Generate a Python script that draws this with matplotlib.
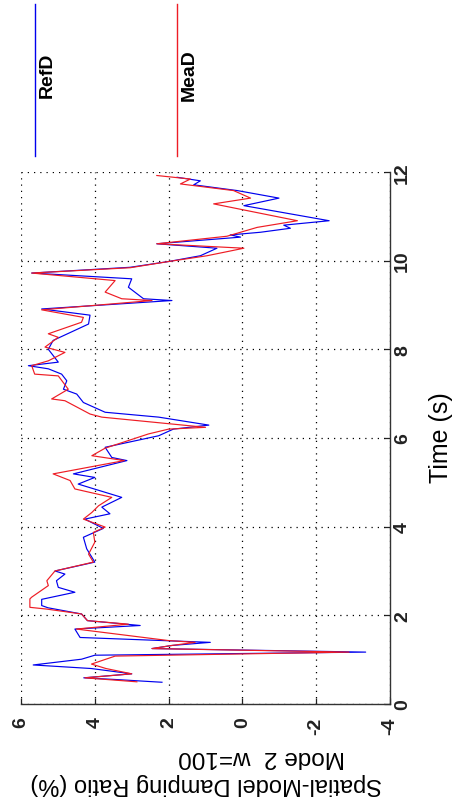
import matplotlib
matplotlib.use("Agg")
import matplotlib.pyplot as plt
from matplotlib.lines import Line2D

plt.rcParams['font.family'] = ['Liberation Sans', 'DejaVu Sans']
plt.rcParams['axes.unicode_minus'] = False

# RefD (blue) : time (s) / damping ratio (%)
ref_t = [0.49, 0.55, 0.59, 0.68, 0.80, 0.88, 1.01, 1.10, 1.17, 1.25,
         1.32, 1.39, 1.50, 1.69, 1.77, 1.88, 2.03, 2.17, 2.22, 2.36,
         2.52, 2.63, 2.78, 2.93, 3.00, 3.20, 3.50, 3.76, 3.96, 4.17,
         4.29, 4.44, 4.66, 4.96, 5.11, 5.19, 5.49, 5.56, 5.79, 6.05,
         6.20, 6.29, 6.47, 6.58, 6.80, 6.99, 7.10, 7.29, 7.44, 7.56,
         7.63, 7.71, 8.00, 8.20, 8.57, 8.77, 8.91, 9.10, 9.14, 9.40,
         9.59, 9.72, 9.85, 9.98, 10.11, 10.28, 10.38, 10.53, 10.58, 10.64,
         10.73, 10.80, 10.90, 11.24, 11.41, 11.58, 11.71, 11.80, 11.88]
ref_d = [2.18, 3.40, 4.30, 3.00, 4.10, 5.67, 4.36, 4.00, -3.34, 2.45,
         1.91, 0.87, 4.40, 4.54, 2.77, 4.20, 4.36, 5.27, 5.44, 5.44,
         4.54, 4.99, 5.04, 4.81, 5.08, 4.00, 4.22, 4.31, 3.77, 4.27,
         3.59, 3.81, 3.27, 4.45, 4.00, 4.58, 3.13, 3.54, 3.72, 2.27,
         1.87, 0.91, 2.27, 3.72, 4.31, 4.49, 4.85, 4.76, 4.90, 5.26,
         5.80, 4.99, 5.26, 5.13, 4.17, 4.13, 5.44, 1.91, 2.68, 3.09,
         3.00, 5.71, 3.04, 2.00, 1.14, 0.69, 2.32, 0.05, 0.33, -0.49,
         -1.30, -1.12, -2.35, -0.04, -0.99, 0.14, 1.32, 1.14, 1.77]

# MeaD (red)
mea_t = [0.50, 0.59, 0.68, 0.80, 0.90, 1.08, 1.17, 1.25, 1.32, 1.39,
         1.43, 1.69, 1.80, 1.88, 2.03, 2.14, 2.18, 2.37, 2.41, 2.67,
         2.78, 3.00, 3.20, 3.38, 3.65, 3.87, 3.99, 4.17, 4.32, 4.47,
         4.66, 4.85, 5.04, 5.19, 5.49, 5.60, 5.77, 6.09, 6.20, 6.24,
         6.47, 6.54, 6.84, 6.88, 7.10, 7.40, 7.44, 7.63, 7.74, 7.93,
         8.05, 8.27, 8.35, 8.61, 8.72, 8.89, 9.10, 9.14, 9.29, 9.55,
         9.72, 9.84, 9.98, 10.11, 10.28, 10.38, 10.55, 10.75, 10.90, 11.28,
         11.41, 11.58, 11.73, 11.84, 11.92]
mea_d = [2.86, 4.27, 3.00, 3.70, 4.09, 3.45, -2.89, 2.45, 1.91, 1.28,
         2.00, 4.50, 3.09, 4.20, 4.36, 5.30, 5.76, 5.76, 5.71, 5.26,
         5.30, 5.08, 4.04, 4.17, 4.00, 4.04, 3.72, 4.31, 4.08, 3.90,
         3.54, 4.54, 4.67, 5.13, 3.20, 4.08, 3.72, 2.55, 2.00, 1.00,
         3.81, 4.13, 4.81, 5.17, 4.72, 4.99, 5.63, 5.71, 5.26, 4.81,
         5.35, 4.99, 5.26, 4.36, 4.31, 5.44, 2.45, 3.27, 3.72, 3.45,
         5.71, 3.04, 2.00, 0.96, -0.04, 2.32, 0.42, -0.40, -1.49, 0.78,
         -0.22, 0.24, 1.68, 1.41, 2.32]

damp_ticks = [6, 4, 2, 0, -2, -4]
time_ticks = [0, 2, 4, 6, 8, 10, 12]
names = ['RefD', 'MeaD']
colors = ['#0000ee', '#ee1c24']

fig = plt.figure(figsize=(4.62, 8.12), dpi=100)
ax = fig.add_axes([0.0455, 0.1318, 0.7987, 0.6552])

l1, = ax.plot(ref_d, ref_t, color=colors[0], lw=0.85)
l2, = ax.plot(mea_d, mea_t, color=colors[1], lw=0.85)

ax.set_xlim(6, -4)
ax.set_ylim(0, 12)
ax.set_xticks(damp_ticks)
ax.set_xticklabels([str(v) for v in damp_ticks])
ax.set_yticks(time_ticks)
ax.set_yticklabels([str(v) for v in time_ticks])
ax.yaxis.tick_right()

for s in ['top', 'left']:
    ax.spines[s].set_visible(False)
for s in ['bottom', 'right']:
    ax.spines[s].set_color('#333333')
    ax.spines[s].set_linewidth(1.0)

ax.grid(True, color='black', linestyle=(0, (1, 4)), linewidth=0.9)
ax.tick_params(direction='in', length=4, width=0.9, colors='#222222')
ax.tick_params(axis='x', pad=9, labelsize=14)
ax.tick_params(axis='y', pad=3, labelsize=14)
for lab in ax.get_xticklabels():
    lab.set_rotation(90)
    lab.set_fontweight('bold')
for lab in ax.get_yticklabels():
    lab.set_rotation(90)
    lab.set_va('center')
    lab.set_fontweight('bold')

# axis titles (figure is shown turned on its side)
fig.text(0.954, 0.461, 'Time (s)', rotation=90, ha='center', va='center', fontsize=18)
fig.text(0.446, 0.034, 'Spatial-Model Damping Ratio (%)', rotation=180,
         ha='center', va='center', fontsize=17)
fig.text(0.567, 0.068, 'Mode 2  w=100', rotation=180, ha='center', va='center', fontsize=17.5)

# legend, drawn vertically at the top
for xl, xt, line, name in [(0.0758, 0.1017, l1, names[0]), (0.383, 0.409, l2, names[1])]:
    fig.add_artist(Line2D([xl, xl], [0.8067, 0.9938], color=line.get_color(), lw=1.0))
    fig.text(xt, 0.907, name, rotation=90, ha='center', va='center',
             fontsize=14, fontweight='bold')

fig.savefig('out.png', dpi=100)
